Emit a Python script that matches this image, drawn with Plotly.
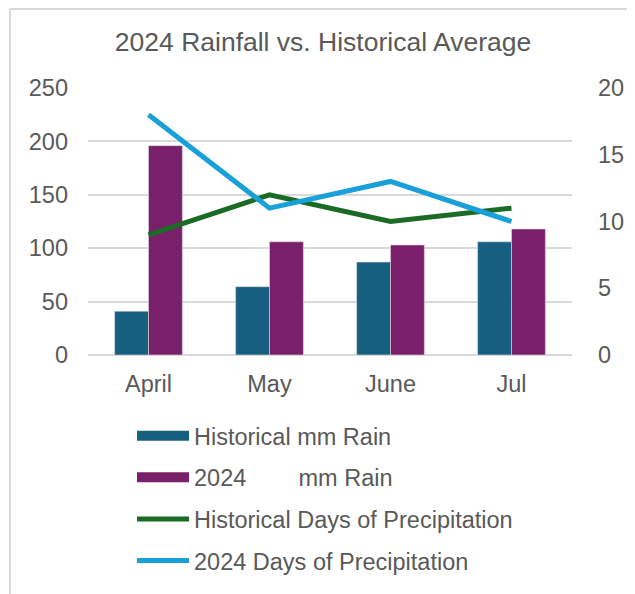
import plotly.graph_objects as go

months = ["April", "May", "June", "Jul"]
hist_mm = [41, 64, 87, 106]
rain_2024_mm = [196, 106, 103, 118]
hist_days = [9, 12, 10, 11]
days_2024 = [18, 11, 13, 10]

left_ticks = [0, 50, 100, 150, 200, 250]
right_ticks = [0, 5, 10, 15, 20]

NAME_2024 = "2024" + "\u00a0" * 8 + "mm Rain"

C_HIST = "#175f80"
C_2024 = "#7a1f6a"
C_HDAYS = "#1b6b26"
C_2DAYS = "#1aa0d8"
GRAY = "#595959"
GRID = "#d9d9d9"
FONT = "Liberation Sans, Arial, sans-serif"
FS = 23.5

# the page body adds an 8px margin, so the figure covers the visible 627x586 area
W, H = 627, 586
L, R, T, B = 80, 63, 80, 239
PW, PH = W - L - R, H - T - B


def px(x):
    return (x - L) / PW


def py(y):
    return (H - B - y) / PH


fig = go.Figure()
fig.add_trace(go.Bar(x=months, y=hist_mm, name="Historical mm Rain",
                     marker=dict(color=C_HIST, line=dict(color="#dcdcdc", width=0.6)),
                     showlegend=False, yaxis="y"))
fig.add_trace(go.Bar(x=months, y=rain_2024_mm, name=NAME_2024,
                     marker=dict(color=C_2024, line=dict(color="#dcdcdc", width=0.6)),
                     showlegend=False, yaxis="y"))
# legend entries for bars drawn as wide patches like the original
fig.add_trace(go.Scatter(x=[None], y=[None], mode="lines", name="Historical mm Rain",
                         line=dict(color=C_HIST, width=13), legendgroup="a"))
fig.add_trace(go.Scatter(x=[None], y=[None], mode="lines", name=NAME_2024,
                         line=dict(color=C_2024, width=13), legendgroup="b"))
fig.add_trace(go.Scatter(x=months, y=hist_days, mode="lines", name="Historical Days of Precipitation",
                         line=dict(color=C_HDAYS, width=5), yaxis="y2", legendgroup="c"))
fig.add_trace(go.Scatter(x=months, y=days_2024, mode="lines", name="2024 Days of Precipitation",
                         line=dict(color=C_2DAYS, width=5), yaxis="y2", legendgroup="d"))

fig.update_layout(
    width=W, height=H,
    margin=dict(l=L, r=R, t=T, b=B, autoexpand=False),
    paper_bgcolor="white", plot_bgcolor="white",
    font=dict(family=FONT, color=GRAY, size=FS),
    title=dict(text="2024 Rainfall vs. Historical Average", x=315 / W, xref="container",
               xanchor="center", y=1 - 34 / H, yref="container", yanchor="middle",
               font=dict(size=26.5, color=GRAY)),
    barmode="group", bargap=0.44, bargroupgap=0,
    xaxis=dict(showgrid=False, showline=False, ticks="", ticklabelstandoff=12, automargin=False,
               tickfont=dict(size=FS, color=GRAY)),
    yaxis=dict(range=[0, 250], tickvals=left_ticks, showgrid=True, gridcolor=GRID, gridwidth=1.5,
               zeroline=True, zerolinecolor=GRID, zerolinewidth=1.5, showline=False, automargin=False,
               ticks="", ticklabelstandoff=19, tickfont=dict(size=FS, color=GRAY)),
    yaxis2=dict(range=[0, 20], tickvals=right_ticks, overlaying="y", side="right", automargin=False,
                showgrid=False, zeroline=False, showline=False, ticks="",
                ticklabelstandoff=25, tickfont=dict(size=FS, color=GRAY)),
    legend=dict(x=124 / W, xref="container", xanchor="left", y=1 - 406 / H, yref="container",
                yanchor="top", orientation="v", itemwidth=52, tracegroupgap=8,
                font=dict(size=FS, color=GRAY), bgcolor="rgba(0,0,0,0)"),
    shapes=[
        dict(type="line", xref="paper", yref="paper", x0=px(2), x1=px(640), y0=py(1), y1=py(1),
             line=dict(color=GRID, width=2)),
        dict(type="line", xref="paper", yref="paper", x0=px(2), x1=px(2), y0=py(1), y1=py(600),
             line=dict(color=GRID, width=2)),
    ],
)

fig.write_html("out.html")
